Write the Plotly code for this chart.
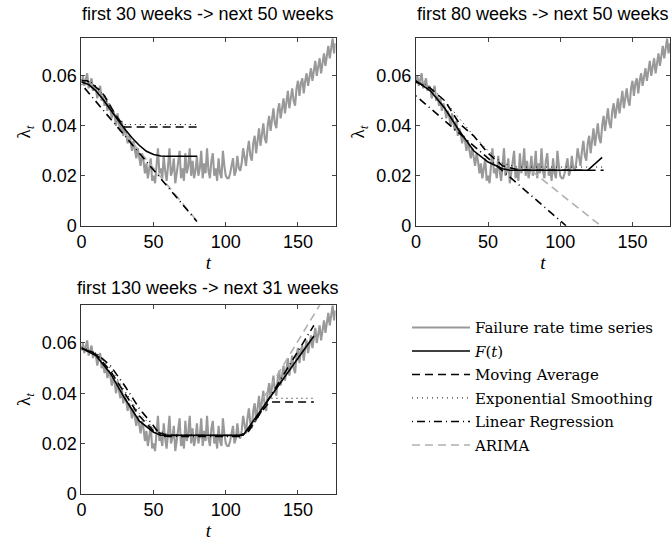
import plotly.graph_objects as go

# ---------------- data ----------------
weeks = list(range(0, 177))
failure_rate = [
    0.057, 0.060, 0.056, 0.059, 0.061, 0.055, 0.057, 0.059, 0.054, 0.056,
    0.055, 0.051, 0.054, 0.056, 0.050, 0.052, 0.048, 0.051, 0.046, 0.049,
    0.047, 0.043, 0.046, 0.044, 0.040, 0.045, 0.041, 0.038, 0.042, 0.036,
    0.039, 0.037, 0.033, 0.036, 0.034, 0.030, 0.034, 0.031, 0.027, 0.031,
    0.028, 0.024, 0.029, 0.026, 0.021, 0.025, 0.019, 0.023, 0.027, 0.018,
    0.020, 0.017, 0.025, 0.031, 0.021, 0.023, 0.019, 0.028, 0.022, 0.018,
    0.024, 0.031, 0.020, 0.022, 0.027, 0.017, 0.021, 0.025, 0.030, 0.019,
    0.023, 0.018, 0.029, 0.021, 0.024, 0.031, 0.020, 0.026, 0.019, 0.022,
    0.028, 0.020, 0.023, 0.030, 0.019, 0.025, 0.021, 0.031, 0.022, 0.019,
    0.026, 0.029, 0.020, 0.023, 0.018, 0.027, 0.021, 0.019, 0.030, 0.024,
    0.020, 0.019, 0.019, 0.021, 0.024, 0.027, 0.020, 0.022, 0.028, 0.023,
    0.022, 0.025, 0.031, 0.027, 0.024, 0.030, 0.034, 0.028, 0.026, 0.033,
    0.036, 0.029, 0.034, 0.039, 0.032, 0.037, 0.041, 0.035, 0.033, 0.040,
    0.044, 0.038, 0.042, 0.047, 0.041, 0.039, 0.046, 0.049, 0.043, 0.048,
    0.051, 0.045, 0.049, 0.054, 0.047, 0.052, 0.055, 0.050, 0.048, 0.055,
    0.058, 0.052, 0.057, 0.059, 0.053, 0.058, 0.061, 0.056, 0.060, 0.063,
    0.058, 0.062, 0.066, 0.060, 0.064, 0.067, 0.061, 0.065, 0.069, 0.064,
    0.068, 0.072, 0.067, 0.071, 0.075, 0.069, 0.073,
]

titles = ["first 30 weeks -> next 50 weeks",
          "first 80 weeks -> next 50 weeks",
          "first 130 weeks -> next 31 weeks"]

# panel 1: first 30 weeks -> next 50 weeks
p1_F_t = [0, 5, 10, 15, 20, 25, 30, 35, 40, 45, 50, 55, 60, 80]
p1_F_y = [0.0575, 0.0565, 0.054, 0.0505, 0.0465, 0.0425, 0.0387, 0.0352,
          0.0322, 0.0298, 0.0285, 0.0279, 0.0278, 0.0278]
p1_MA_t = [0, 4, 8, 12, 16, 20, 24, 28, 30, 80]
p1_MA_y = [0.058, 0.058, 0.0565, 0.0545, 0.052, 0.048, 0.044, 0.041, 0.0395, 0.0395]
p1_ES_t = [0, 4, 8, 12, 16, 20, 24, 28, 30, 80]
p1_ES_y = [0.0585, 0.058, 0.057, 0.055, 0.0515, 0.047, 0.0435, 0.0415, 0.0405, 0.0405]
p1_LR_t = [0, 80]
p1_LR_y = [0.0566, 0.0017]
p1_AR_t = [30, 80]
p1_AR_y = [0.037, 0.002]

# panel 2: first 80 weeks -> next 50 weeks
p2_F_t = [0, 10, 20, 30, 40, 50, 60, 65, 119, 129]
p2_F_y = [0.058, 0.054, 0.047, 0.038, 0.030, 0.0255, 0.0228, 0.0222, 0.0222, 0.0274]
p2_MA_t = [0, 10, 20, 30, 40, 50, 60, 70, 80, 130]
p2_MA_y = [0.0575, 0.055, 0.050, 0.041, 0.036, 0.029, 0.024, 0.0225, 0.0222, 0.0222]
p2_ES_t = [0, 10, 20, 30, 40, 50, 60, 70, 80, 130]
p2_ES_y = [0.058, 0.0555, 0.050, 0.043, 0.036, 0.030, 0.025, 0.0235, 0.0235, 0.0235]
p2_LR_t = [0, 104]
p2_LR_y = [0.052, 0.0]
p2_AR_t = [80, 128]
p2_AR_y = [0.022, 0.0]

# panel 3: first 130 weeks -> next 31 weeks
p3_F_t = [0, 10, 20, 30, 40, 50, 55, 112, 161]
p3_F_y = [0.058, 0.055, 0.048, 0.038, 0.029, 0.0245, 0.0233, 0.0233, 0.0628]
p3_MA_t = [0, 10, 20, 30, 40, 50, 60, 110, 115, 120, 125, 130, 161]
p3_MA_y = [0.058, 0.0555, 0.049, 0.040, 0.031, 0.025, 0.0232, 0.0232, 0.025,
           0.029, 0.033, 0.0365, 0.0365]
p3_ES_t = [0, 10, 20, 30, 40, 50, 60, 110, 115, 120, 125, 130, 161]
p3_ES_y = [0.0585, 0.056, 0.050, 0.041, 0.032, 0.026, 0.0235, 0.023, 0.0245,
           0.028, 0.033, 0.038, 0.038]
p3_LR_t = [0, 10, 20, 30, 40, 50, 55, 60, 110, 116, 130, 161]
p3_LR_y = [0.0575, 0.056, 0.051, 0.043, 0.034, 0.027, 0.023, 0.0228, 0.0228,
           0.025, 0.038, 0.067]
p3_AR_t = [126, 166]
p3_AR_y = [0.038, 0.076]

x_ticks = [0, 50, 100, 150]
y_ticks = [0, 0.02, 0.04, 0.06]

legend_names = ["Failure rate time series", "<i>F</i>(<i>t</i>)", "Moving Average",
                "Exponential Smoothing", "Linear Regression", "ARIMA"]

# ---------------- figure ----------------
W, H = 672, 545
fig = go.Figure()

panels = [
    (p1_F_t, p1_F_y, p1_MA_t, p1_MA_y, p1_ES_t, p1_ES_y, p1_LR_t, p1_LR_y, p1_AR_t, p1_AR_y),
    (p2_F_t, p2_F_y, p2_MA_t, p2_MA_y, p2_ES_t, p2_ES_y, p2_LR_t, p2_LR_y, p2_AR_t, p2_AR_y),
    (p3_F_t, p3_F_y, p3_MA_t, p3_MA_y, p3_ES_t, p3_ES_y, p3_LR_t, p3_LR_y, p3_AR_t, p3_AR_y),
]

styles = {
    "gray": dict(color="#999999", width=2.1),
    "F": dict(color="black", width=1.6),
    "MA": dict(color="black", width=1.6, dash="8px,5px"),
    "ES": dict(color="black", width=1.0, dash="1px,4px"),
    "LR": dict(color="black", width=1.6, dash="1px,4px,8px,4px"),
    "AR": dict(color="#b0b0b0", width=1.6, dash="8px,5px"),
}

for i, p in enumerate(panels):
    xa = "x" if i == 0 else f"x{i+1}"
    ya = "y" if i == 0 else f"y{i+1}"
    show = (i == 0)
    F_t, F_y, MA_t, MA_y, ES_t, ES_y, LR_t, LR_y, AR_t, AR_y = p
    fig.add_trace(go.Scatter(x=weeks, y=failure_rate, mode="lines", line=styles["gray"],
                             name=legend_names[0], legendgroup="g0", legendrank=1,
                             showlegend=show, xaxis=xa, yaxis=ya))
    fig.add_trace(go.Scatter(x=AR_t, y=AR_y, mode="lines", line=styles["AR"],
                             name=legend_names[5], legendgroup="g5", legendrank=6,
                             showlegend=show, xaxis=xa, yaxis=ya))
    fig.add_trace(go.Scatter(x=LR_t, y=LR_y, mode="lines", line=styles["LR"],
                             name=legend_names[4], legendgroup="g4", legendrank=5,
                             showlegend=show, xaxis=xa, yaxis=ya))
    fig.add_trace(go.Scatter(x=ES_t, y=ES_y, mode="lines", line=styles["ES"],
                             name=legend_names[3], legendgroup="g3", legendrank=4,
                             showlegend=show, xaxis=xa, yaxis=ya))
    fig.add_trace(go.Scatter(x=MA_t, y=MA_y, mode="lines", line=styles["MA"],
                             name=legend_names[2], legendgroup="g2", legendrank=3,
                             showlegend=show, xaxis=xa, yaxis=ya))
    fig.add_trace(go.Scatter(x=F_t, y=F_y, mode="lines", line=styles["F"],
                             name=legend_names[1], legendgroup="g1", legendrank=2,
                             showlegend=show, xaxis=xa, yaxis=ya))

def px_x(v):
    return v / W

def px_y(v):
    return (H - v) / H

domains = [
    ([px_x(77), px_x(333)], [px_y(230), px_y(39)]),
    ([px_x(414), px_x(670)], [px_y(230), px_y(39)]),
    ([px_x(77), px_x(333)], [px_y(503), px_y(311)]),
]
title_gap = [25, 25, 18]

axis_font = dict(family="Liberation Sans, Arial, sans-serif", size=18, color="black")
title_font = dict(family="Liberation Serif, DejaVu Serif, serif", size=19, color="black")

layout = dict(
    width=W, height=H,
    margin=dict(l=0, r=0, t=0, b=0),
    paper_bgcolor="white", plot_bgcolor="white",
    showlegend=True,
    legend=dict(x=px_x(405), y=px_y(317), xanchor="left", yanchor="top",
                font=dict(family="DejaVu Serif, Liberation Serif, serif", size=15, color="black"),
                itemwidth=58, tracegroupgap=1, bgcolor="rgba(0,0,0,0)",
                traceorder="grouped"),
)

annotations = []
for i, (dx, dy) in enumerate(domains):
    sfx = "" if i == 0 else str(i + 1)
    layout["xaxis" + sfx] = dict(
        domain=dx, range=[0, 176], tickvals=x_ticks, ticks="inside", ticklen=4,
        showline=True, mirror="allticks", linecolor="#333", linewidth=1,
        showgrid=False, zeroline=False, tickfont=axis_font,
        anchor="y" + sfx,
        title=dict(text="<i>t</i>", font=title_font, standoff=2),
    )
    layout["yaxis" + sfx] = dict(
        domain=dy, range=[0, 0.075], tickvals=y_ticks, ticks="inside", ticklen=4,
        showline=True, mirror="allticks", linecolor="#333", linewidth=1,
        showgrid=False, zeroline=False, tickfont=axis_font,
        anchor="x" + sfx,
        title=dict(text="λ<sub><i>t</i></sub>", font=title_font, standoff=6),
    )
    annotations.append(dict(
        text=titles[i], xref="paper", yref="paper",
        x=(dx[0] + dx[1]) / 2, y=dy[1] + title_gap[i] / H, xanchor="center", yanchor="middle",
        showarrow=False, font=dict(family="Liberation Sans, Arial, sans-serif", size=18, color="black"),
    ))

layout["annotations"] = annotations
fig.update_layout(**layout)

# remove the default 8px page margin so the figure fills the window exactly
fig.write_html("out.html",
               config={"displayModeBar": False},
               post_script="document.body.style.margin='0px';document.body.style.padding='0px';")
